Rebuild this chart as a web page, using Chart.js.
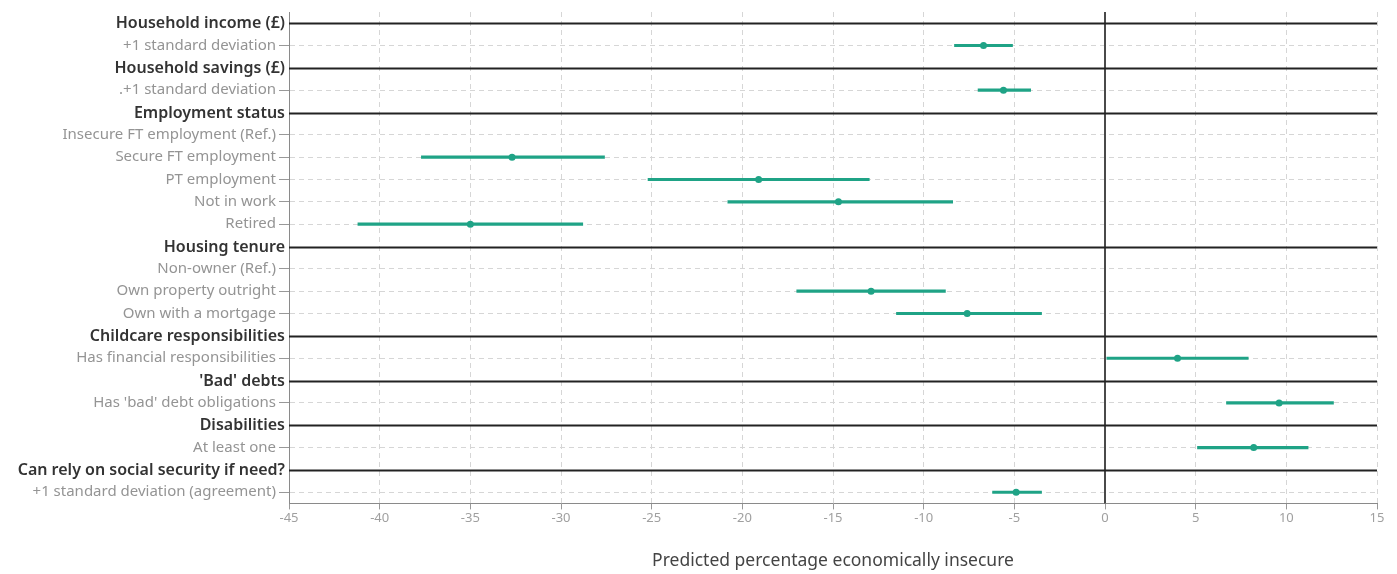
<!DOCTYPE html>
<html>
<head>
<meta charset="utf-8">
<script src="https://cdn.jsdelivr.net/npm/chart.js@4"></script>
<style>
  html, body { margin: 0; padding: 0; background: #fff; }
  #wrap { width: 1397px; height: 574px; }
</style>
</head>
<body>
<div id="wrap"><canvas id="chart"></canvas></div>
<script>
const labels = [
  'Household income (£)',
  '+1 standard deviation',
  'Household savings (£)',
  '.+1 standard deviation',
  'Employment status',
  'Insecure FT employment (Ref.)',
  'Secure FT employment',
  'PT employment',
  'Not in work',
  'Retired',
  'Housing tenure',
  'Non-owner (Ref.)',
  'Own property outright',
  'Own with a mortgage',
  'Childcare responsibilities',
  'Has financial responsibilities',
  "'Bad' debts",
  "Has 'bad' debt obligations",
  'Disabilities',
  'At least one',
  'Can rely on social security if need?',
  '+1 standard deviation (agreement)'
];
const isHeader = [1, 0, 1, 0, 1, 0, 0, 0, 0, 0, 1, 0, 0, 0, 1, 0, 1, 0, 1, 0, 1, 0];

// point estimate and 95% interval (null = header row or reference group)
const estimate = [null, -6.7, null, -5.6, null, null, -32.7, -19.1, -14.7, -35.0, null, null, -12.9, -7.6, null, 4.0, null, 9.6, null, 8.2, null, -4.9];
const lower    = [null, -8.3, null, -7.0, null, null, -37.7, -25.2, -20.8, -41.2, null, null, -17.0, -11.5, null, 0.1, null, 6.7, null, 5.1, null, -6.2];
const upper    = [null, -5.1, null, -4.1, null, null, -27.6, -13.0, -8.4, -28.8, null, null, -8.8, -3.5, null, 7.9, null, 12.6, null, 11.2, null, -3.5];

const teal = '#1fa386';
const fontFamily = '"Noto Sans", "Open Sans", sans-serif';

const sectionLines = {
  id: 'sectionLines',
  beforeDatasetsDraw(chart) {
    const { ctx, chartArea, scales: { x, y } } = chart;
    ctx.save();
    // zero reference line
    const x0 = x.getPixelForValue(0);
    ctx.strokeStyle = '#4a4a4a';
    ctx.lineWidth = 2;
    ctx.beginPath();
    ctx.moveTo(x0, chartArea.top);
    ctx.lineTo(x0, chartArea.bottom);
    ctx.stroke();
    // section rules + section titles
    labels.forEach((lab, i) => {
      if (!isHeader[i]) return;
      const py = Math.round(y.getPixelForValue(i)) + 0.5;
      ctx.strokeStyle = '#222';
      ctx.lineWidth = 2;
      ctx.beginPath();
      ctx.moveTo(chartArea.left, py);
      ctx.lineTo(chartArea.right, py);
      ctx.stroke();
      ctx.fillStyle = '#333';
      ctx.font = '600 16px ' + fontFamily;
      ctx.textAlign = 'right';
      ctx.textBaseline = 'middle';
      ctx.fillText(lab, chartArea.left - 4, py);
    });
    ctx.restore();
  }
};

new Chart(document.getElementById('chart'), {
  type: 'bar',
  data: {
    labels: labels,
    datasets: [
      {
        label: '95% interval',
        data: labels.map((_, i) => lower[i] === null ? null : [lower[i], upper[i]]),
        backgroundColor: teal,
        barThickness: 2.5,
        order: 2,
      },
      {
        type: 'line',
        label: 'Estimate',
        indexAxis: 'y',
        data: labels.map((lab, i) => ({ x: estimate[i], y: lab })),
        showLine: false,
        pointRadius: 3.5,
        pointBackgroundColor: teal,
        pointBorderWidth: 0,
        order: 1,
      },
    ],
  },
  options: {
    indexAxis: 'y',
    responsive: true,
    maintainAspectRatio: false,
    animation: false,
    layout: { padding: { top: 7, right: 20, left: 0, bottom: 0 } },
    plugins: {
      legend: { display: false },
      tooltip: { enabled: false },
    },
    scales: {
      y: {
        type: 'category',
        offset: true,
        afterFit: (scale) => { scale.width = 289; },
        grid: {
          offset: false,
          color: (ctx) => isHeader[ctx.index] ? 'rgba(0,0,0,0)' : '#d6d6d6',
          tickColor: (ctx) => isHeader[ctx.index] ? 'rgba(0,0,0,0)' : '#999',
          tickLength: 10,
          tickBorderDash: [],
        },
        border: { color: '#8a8a8a', width: 1, dash: [5, 4] },
        ticks: {
          autoSkip: false,
          padding: 3,
          color: '#949494',
          font: { family: fontFamily, size: 15 },
          callback: (v, i) => isHeader[i] ? '' : labels[i],
        },
      },
      x: {
        min: -45,
        max: 15,
        grid: {
          color: '#d6d6d6',
          tickColor: '#999',
          tickLength: 6,
          tickBorderDash: [],
        },
        border: { color: '#8a8a8a', width: 1, dash: [5, 4] },
        ticks: {
          stepSize: 5,
          padding: 1,
          color: '#a0a0a0',
          font: { family: fontFamily, size: 13 },
        },
        title: {
          display: true,
          text: 'Predicted percentage economically insecure',
          color: '#444',
          font: { family: fontFamily, size: 17.5 },
          padding: { top: 24, bottom: 2 },
        },
      },
    },
  },
  plugins: [sectionLines],
});
</script>
</body>
</html>
